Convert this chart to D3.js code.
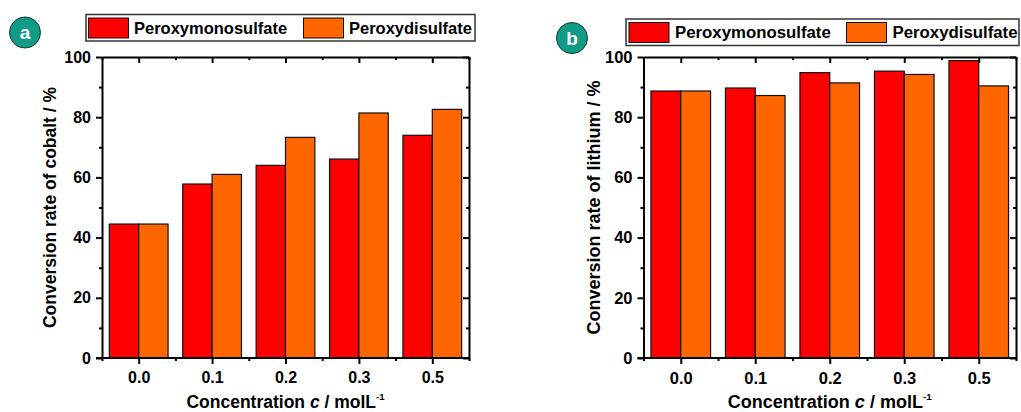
<!DOCTYPE html>
<html>
<head>
<meta charset="utf-8">
<script src="https://cdn.jsdelivr.net/npm/d3@7"></script>
<style>
  body { margin: 0; background: #fff; }
  svg { display: block; font-family: "Liberation Sans", Arial, sans-serif; font-weight: bold; }
</style>
</head>
<body>
<div id="chart"></div>
<script>
// Data
const categories = ["0.0", "0.1", "0.2", "0.3", "0.5"];
const seriesNames = ["Peroxymonosulfate", "Peroxydisulfate"];
const cobaltPMS = [44.5, 57.8, 64.0, 66.1, 74.0];
const cobaltPDS = [44.5, 61.0, 73.3, 81.4, 82.6];
const lithiumPMS = [88.7, 89.7, 94.8, 95.3, 98.8];
const lithiumPDS = [88.7, 87.2, 91.4, 94.2, 90.4];
const yTicks = [0, 20, 40, 60, 80, 100];
const yMinorTicks = [10, 30, 50, 70, 90];

const colors = ["#ff0000", "#ff6600"];

const svg = d3.select("#chart").append("svg")
    .attr("width", 1021)
    .attr("height", 412);

// Panel layouts (pixels)
const panels = [
  {
    letter: "a", yTitle: "Conversion rate of cobalt / %",
    series: [cobaltPMS, cobaltPDS],
    left: 102, right: 469, top: 57, bottom: 358,
    circle: [25, 32.5], yTitleX: 56,
    legend: {x: 86, y: 14.5, w: 389, h: 26.5, fs: 16.5, textX: [134, 349], swX: [88.5, 303.5]},
    fs: 16, titleFs: 17.5
  },
  {
    letter: "b", yTitle: "Conversion rate of lithium / %",
    series: [lithiumPMS, lithiumPDS],
    left: 643.5, right: 1016, top: 57, bottom: 358,
    circle: [572, 38], yTitleX: 600,
    legend: {x: 626, y: 19, w: 393, h: 26.5, fs: 16.8, textX: [675, 892.5], swX: [629, 846.5]},
    fs: 16.5, titleFs: 18
  }
];

panels.forEach(function(p) {
  const g = svg.append("g");
  const width = p.right - p.left;

  // Scales
  const x = d3.scaleBand()
      .domain(categories)
      .range([p.left, p.right])
      .paddingInner(0.2)
      .paddingOuter(0.1);

  const xSub = d3.scaleBand()
      .domain(seriesNames)
      .range([0, x.bandwidth()]);

  const y = d3.scaleLinear()
      .domain([0, 100])
      .range([p.bottom, p.top]);

  // Bars
  const groups = g.selectAll(".cat")
      .data(categories)
      .enter().append("g")
      .attr("transform", d => `translate(${x(d)},0)`);

  groups.selectAll("rect")
      .data((d, i) => seriesNames.map((s, j) => ({name: s, value: p.series[j][i], j: j})))
      .enter().append("rect")
      .attr("x", d => xSub(d.name))
      .attr("y", d => y(d.value))
      .attr("width", xSub.bandwidth())
      .attr("height", d => p.bottom - y(d.value))
      .attr("fill", d => colors[d.j])
      .attr("stroke", "#111")
      .attr("stroke-width", 1.2);

  // Category boundaries for minor x ticks
  const step = x.step();
  const xCenters = categories.map(c => x(c) + x.bandwidth() / 2);
  const xMinor = d3.range(categories.length + 1).map(i => p.left + i * step);

  const axisStyle = sel => sel.selectAll("line, path").attr("stroke", "#000").attr("stroke-width", 2);

  // Left axis
  g.append("g")
      .attr("transform", `translate(${p.left},0)`)
      .call(d3.axisLeft(y).tickValues(yTicks).tickSize(6).tickPadding(5).tickSizeOuter(0))
      .call(axisStyle)
      .call(s => s.selectAll("text").attr("font-size", p.fs).attr("font-weight", "bold")
          .attr("font-family", "Liberation Sans, Arial, sans-serif").attr("fill", "#000"));

  g.append("g")
      .attr("transform", `translate(${p.left},0)`)
      .call(d3.axisLeft(y).tickValues(yMinorTicks).tickSize(3).tickFormat("").tickSizeOuter(0))
      .call(axisStyle)
      .call(s => s.select(".domain").remove());

  // Right axis (ticks inward)
  g.append("g")
      .attr("transform", `translate(${p.right},0)`)
      .call(d3.axisLeft(y).tickValues(yTicks).tickSize(6).tickFormat("").tickSizeOuter(0))
      .call(axisStyle)
      .call(s => s.selectAll(".tick line").attr("x2", -6).attr("x1", 0));

  g.append("g")
      .attr("transform", `translate(${p.right},0)`)
      .call(d3.axisLeft(y).tickValues(yMinorTicks).tickSize(3).tickFormat("").tickSizeOuter(0))
      .call(axisStyle)
      .call(s => s.select(".domain").remove());

  // Bottom axis
  const xLin = d3.scaleLinear().domain([p.left, p.right]).range([p.left, p.right]);
  const bottomAxis = g.append("g")
      .attr("transform", `translate(0,${p.bottom})`)
      .call(d3.axisBottom(xLin).tickValues(xCenters).tickSize(6).tickPadding(8)
          .tickFormat((d, i) => categories[i]).tickSizeOuter(0))
      .call(axisStyle);
  bottomAxis.selectAll("text")
      .attr("font-size", p.fs).attr("font-weight", "bold")
      .attr("font-family", "Liberation Sans, Arial, sans-serif").attr("fill", "#000");
  // extend baseline slightly to the left like the reference
  bottomAxis.select(".domain").attr("d", `M${p.left - 6},0H${p.right}`);

  g.append("g")
      .attr("transform", `translate(0,${p.bottom})`)
      .call(d3.axisBottom(xLin).tickValues(xMinor).tickSize(3).tickFormat("").tickSizeOuter(0))
      .call(axisStyle)
      .call(s => s.select(".domain").remove());

  // Top axis (ticks inward)
  g.append("g")
      .attr("transform", `translate(0,${p.top})`)
      .call(d3.axisTop(xLin).tickValues(xCenters).tickSize(-6).tickFormat("").tickSizeOuter(0))
      .call(axisStyle);

  g.append("g")
      .attr("transform", `translate(0,${p.top})`)
      .call(d3.axisTop(xLin).tickValues(xMinor).tickSize(-3).tickFormat("").tickSizeOuter(0))
      .call(axisStyle)
      .call(s => s.select(".domain").remove());

  // Axis titles
  const xt = g.append("text")
      .attr("x", (p.left + p.right) / 2)
      .attr("y", 408)
      .attr("text-anchor", "middle")
      .attr("font-size", p.titleFs)
      .attr("fill", "#000");
  xt.append("tspan").text("Concentration ");
  xt.append("tspan").attr("font-style", "italic").text("c");
  xt.append("tspan").text(" / molL");
  xt.append("tspan").attr("font-size", p.titleFs * 0.55).attr("dy", -8).text("-1");

  g.append("text")
      .attr("transform", `translate(${p.yTitleX},${(p.top + p.bottom) / 2}) rotate(-90)`)
      .attr("text-anchor", "middle")
      .attr("font-size", p.titleFs)
      .attr("fill", "#000")
      .text(p.yTitle);

  // Panel letter badge
  g.append("circle")
      .attr("cx", p.circle[0])
      .attr("cy", p.circle[1])
      .attr("r", 15.5)
      .attr("fill", "#119a86")
      .attr("stroke", "#0b3d35")
      .attr("stroke-width", 1);
  g.append("text")
      .attr("x", p.circle[0])
      .attr("y", p.circle[1])
      .attr("dy", "0.35em")
      .attr("text-anchor", "middle")
      .attr("font-size", 19)
      .attr("fill", "#fff")
      .text(p.letter);

  // Legend
  const L = p.legend;
  g.append("rect")
      .attr("x", L.x).attr("y", L.y)
      .attr("width", L.w).attr("height", L.h)
      .attr("fill", "#fff")
      .attr("stroke", "#333")
      .attr("stroke-width", 1.5);
  seriesNames.forEach(function(name, j) {
    g.append("rect")
        .attr("x", L.swX[j]).attr("y", L.y + 3.5)
        .attr("width", 40).attr("height", 20)
        .attr("fill", colors[j])
        .attr("stroke", "#111")
        .attr("stroke-width", 1);
    g.append("text")
        .attr("x", L.textX[j])
        .attr("y", L.y + L.h / 2)
        .attr("dy", "0.35em")
        .attr("font-size", L.fs)
        .attr("fill", "#000")
        .text(name);
  });
});
</script>
</body>
</html>
